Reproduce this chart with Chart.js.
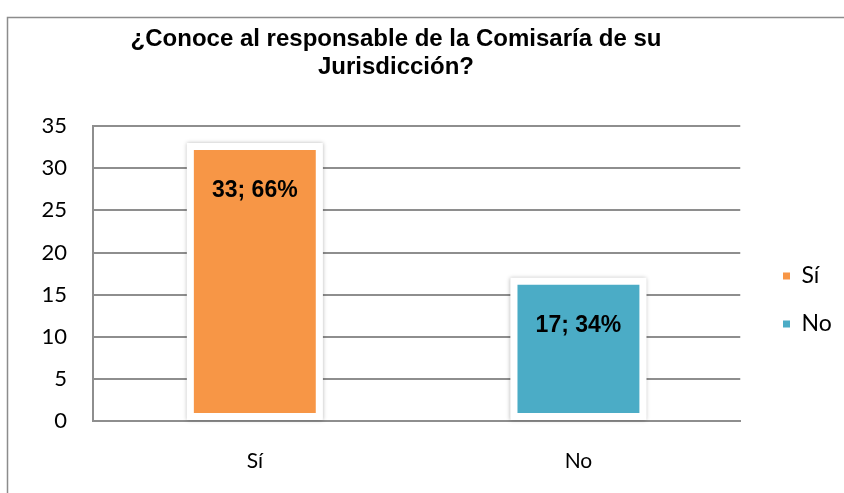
<!DOCTYPE html>
<html>
<head>
<meta charset="utf-8">
<script src="https://cdn.jsdelivr.net/npm/chart.js@4"></script>
<style>
  html, body { margin: 0; padding: 0; background: #fff; }
  #wrap { width: 844px; height: 493px; position: relative; }
</style>
</head>
<body>
<div id="wrap"><canvas id="myChart"></canvas></div>
<script>
var categorias = ['Sí', 'No'];
var valores = [33, 17];
var colores = ['#F79646', '#4BACC6'];
var titulo = ['¿Conoce al responsable de la Comisaría de su', 'Jurisdicción?'];
var ticksY = [0, 5, 10, 15, 20, 25, 30, 35];

var total = valores.reduce(function (a, b) { return a + b; }, 0);

// marco exterior del grafico
var marco = {
    id: 'marco',
    beforeDraw: function (chart) {
        var ctx = chart.ctx;
        ctx.save();
        ctx.strokeStyle = '#8c8c8c';
        ctx.lineWidth = 1.5;
        ctx.beginPath();
        ctx.moveTo(7.5, 493);
        ctx.lineTo(7.5, 17.5);
        ctx.lineTo(844, 17.5);
        ctx.stroke();
        ctx.restore();
    }
};

// mueve titulo y leyenda a donde estan en el original
var acomodo = {
    id: 'acomodo',
    afterLayout: function (chart) {
        var t = chart.titleBlock;
        var dx = 396 - (t.left + t.right) / 2;
        t.left += dx; t.right += dx;
        var l = chart.legend;
        var lx = 758 - l.left;
        l.left += lx; l.right += lx;
        var dy = (600 - (l.top + l.bottom)) / 2;
        l.top += dy; l.bottom += dy;
    }
};

// sombra suave detras de cada barra
var sombra = {
    id: 'sombra',
    beforeDatasetsDraw: function (chart) {
        var ctx = chart.ctx;
        var meta = chart.getDatasetMeta(0);
        ctx.save();
        ctx.fillStyle = '#ffffff';
        ctx.shadowColor = 'rgba(0,0,0,0.28)';
        ctx.shadowBlur = 4;
        meta.data.forEach(function (bar) {
            var p = bar.getProps(['x', 'y', 'base', 'width']);
            ctx.fillRect(p.x - p.width / 2, p.y, p.width, p.base - p.y);
        });
        ctx.restore();
    }
};

// etiquetas "valor; porcentaje" dentro de las barras
var etiquetas = {
    id: 'etiquetas',
    afterDatasetsDraw: function (chart) {
        var ctx = chart.ctx;
        var meta = chart.getDatasetMeta(0);
        ctx.save();
        ctx.font = 'bold 23px "Liberation Sans", Arial, sans-serif';
        ctx.fillStyle = '#000';
        ctx.textAlign = 'center';
        ctx.textBaseline = 'middle';
        meta.data.forEach(function (bar, i) {
            var pct = Math.round(valores[i] / total * 100);
            ctx.fillText(valores[i] + '; ' + pct + '%', bar.x, bar.y + 48);
        });
        ctx.restore();
    }
};

var data = {
    labels: categorias,
    datasets: [{
        label: 'Respuestas',
        data: valores,
        backgroundColor: colores,
        borderColor: '#ffffff',
        borderWidth: 7,
        borderSkipped: false,
        borderRadius: 3,
        barPercentage: 0.42,
        categoryPercentage: 1
    }]
};

var config = {
    type: 'bar',
    data: data,
    options: {
        responsive: true,
        maintainAspectRatio: false,
        animation: false,
        layout: {
            padding: { left: 41, right: 20, top: 0, bottom: 20 }
        },
        plugins: {
            title: {
                display: true,
                text: titulo,
                color: '#000',
                font: { family: '"Liberation Sans", Arial, sans-serif', size: 24, weight: 'bold', lineHeight: 1.17 },
                padding: { top: 25, bottom: 45 }
            },
            legend: {
                display: true,
                position: 'right',
                labels: {
                    boxWidth: 7,
                    boxHeight: 7,
                    padding: 25,
                    color: '#000',
                    font: { family: 'Lato, sans-serif', size: 23 },
                    generateLabels: function (chart) {
                        return categorias.map(function (c, i) {
                            return { text: c, fillStyle: colores[i], strokeStyle: colores[i], lineWidth: 0, index: i };
                        });
                    }
                }
            },
            tooltip: { enabled: false }
        },
        scales: {
            x: {
                afterFit: function (axis) { axis.height = 52; },
                grid: { display: false, drawTicks: false },
                border: { display: true, color: '#8e8e8e', width: 2 },
                ticks: {
                    color: '#000',
                    padding: 28,
                    font: { family: 'Lato, sans-serif', size: 21 }
                }
            },
            y: {
                min: ticksY[0],
                max: ticksY[ticksY.length - 1],
                afterFit: function (axis) { axis.width = 52; },
                afterBuildTicks: function (axis) {
                    axis.ticks = ticksY.map(function (v) { return { value: v }; });
                },
                grid: { color: '#8e8e8e', lineWidth: 2, drawTicks: false },
                border: { display: true, color: '#8e8e8e', width: 2 },
                ticks: {
                    color: '#000',
                    padding: 26,
                    font: { family: 'Lato, sans-serif', size: 22 }
                }
            }
        }
    },
    plugins: [marco, acomodo, sombra, etiquetas]
};

var myChart = new Chart(document.getElementById('myChart'), config);
</script>
</body>
</html>
